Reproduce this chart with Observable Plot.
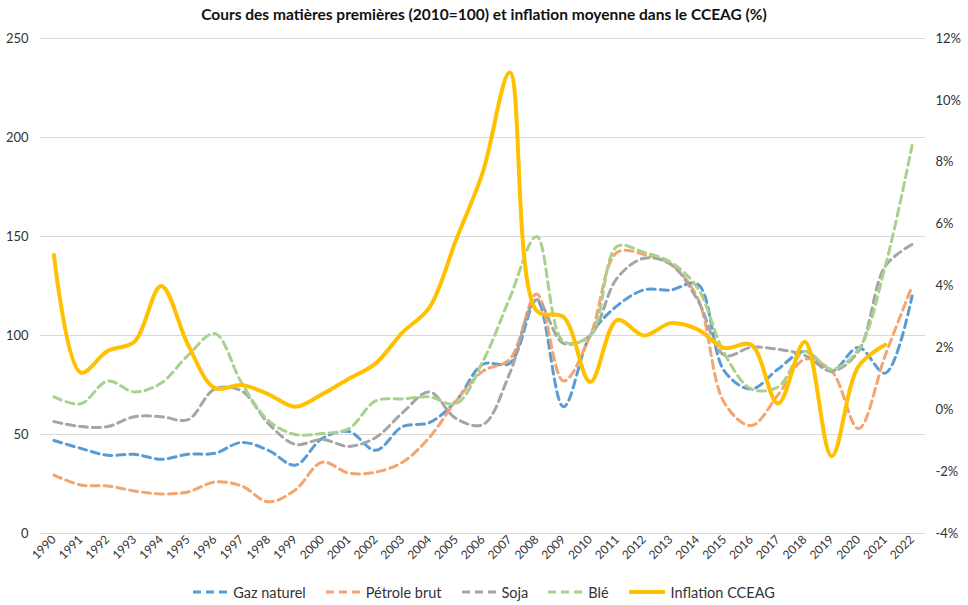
<!DOCTYPE html>
<html>
<head>
<meta charset="utf-8">
<script src="https://cdn.jsdelivr.net/npm/d3@7"></script>
<script src="https://cdn.jsdelivr.net/npm/@observablehq/plot@0.6"></script>
<style>
  body { margin: 0; background: #fff; font-family: Lato, "Open Sans", sans-serif; }
  #wrap { width: 968px; height: 605px; position: relative; overflow: hidden; }
  #title { height: 28px; line-height: 28px; text-align: center; font-weight: 700; font-size: 15.5px; color: #111; }
  #legend { position: absolute; left: 0; top: 580px; width: 968px; height: 24px; display: flex; justify-content: center; align-items: center; font-size: 14.5px; color: #333; }
  .item { display: flex; align-items: center; margin: 0 10px; }
  .item svg { margin-right: 6px; }
</style>
</head>
<body>
<div id="wrap">
  <div id="title">Cours des matières premières (2010=100) et inflation moyenne dans le CCEAG (%)</div>
  <div id="chart"></div>
  <div id="legend"></div>
</div>
<script>
const years = d3.range(1990, 2023);
const leftTicks = [0, 50, 100, 150, 200, 250];
const pctTicks = [-4, -2, 0, 2, 4, 6, 8, 10, 12];

const gaz      = [47, 43, 39.5, 40, 37.5, 40, 40.5, 46, 42, 34.5, 48, 51.5, 42, 54, 56, 67, 85.5, 86, 118, 64, 100, 115, 123, 123, 126, 82, 73, 83, 92, 82, 94, 81, 120];
const petrole  = [29.5, 24.5, 24, 21.5, 20, 21, 26, 24, 16, 22, 36, 30.5, 31, 36, 48.5, 67, 82, 88, 121, 77, 100, 142, 141, 136, 119, 66, 54.5, 70, 88, 82, 53, 90, 125];
const soja     = [56.5, 54, 54, 59, 59, 57.5, 73, 72, 55.5, 45, 47.5, 44, 48.5, 61, 71.5, 58, 55, 81, 118, 96, 100, 129, 139, 136, 118, 90, 94, 93, 90, 82, 92, 135, 146];
const ble      = [69, 65.5, 77, 71.5, 76, 90, 101, 76, 57, 50, 50.5, 53, 67, 68, 69, 65.5, 87, 119, 150, 97, 100, 145, 142, 137, 124, 91, 73, 74, 92, 83, 93, 135, 196];
const inflation = [5.0, 1.2, 1.9, 2.2, 4.0, 2.1, 0.7, 0.8, 0.5, 0.1, 0.5, 1.0, 1.5, 2.5, 3.3, 5.5, 7.7, 10.9, 3.2, 3.0, 0.9, 2.9, 2.4, 2.8, 2.6, 2.0, 2.1, 0.2, 2.2, -1.5, 1.4, 2.1];

const seriesNames = ["Gaz naturel", "Pétrole brut", "Soja", "Blé"];
const seriesValues = [gaz, petrole, soja, ble];
const seriesColors = ["#5b9bd5", "#f4a46e", "#a5a5a5", "#a9d18e"];
const inflName = "Inflation CCEAG";
const inflColor = "#ffc000";

// secondary axis (-4%..12%) mapped onto primary (0..250)
const toLeft = p => (p + 4) * 250 / 16;
const fromLeft = v => v * 16 / 250 - 4;

const dashed = seriesValues.map((vals, k) =>
  Plot.line(vals, {
    x: (d, i) => years[i], y: d => d,
    stroke: seriesColors[k], strokeWidth: 3, strokeDasharray: "8,5",
    curve: "catmull-rom"
  })
);

const chart = Plot.plot({
  width: 968, height: 547,
  marginTop: 10, marginBottom: 42, marginLeft: 40, marginRight: 43,
  x: { domain: [1989.5, 2022.5] },
  y: { domain: [0, 250] },
  style: { fontFamily: "Lato, 'Open Sans', sans-serif", fontSize: "13px", color: "#333", background: "#fff" },
  marks: [
    Plot.gridY(leftTicks, { stroke: "#d9d9d9", strokeOpacity: 1 }),
    Plot.axisY(leftTicks, { tickSize: 0, tickPadding: 12, label: null, fontSize: 13 }),
    Plot.axisY(pctTicks.map(toLeft), { anchor: "right", tickSize: 0, tickPadding: 10, label: null, fontSize: 13,
      tickFormat: d => `${Math.round(fromLeft(d))}%` }),
    Plot.axisX(years, { tickSize: 0, tickPadding: 4, tickRotate: -45, label: null, fontSize: 12,
      tickFormat: d => String(d) }),
    ...dashed,
    Plot.line(inflation, {
      x: (d, i) => years[i], y: d => toLeft(d),
      stroke: inflColor, strokeWidth: 4, curve: "catmull-rom"
    })
  ]
});
document.getElementById("chart").appendChild(chart);

// legend
const legend = document.getElementById("legend");
const ns = "http://www.w3.org/2000/svg";
function addItem(name, color, dash, width, len) {
  const item = document.createElement("div");
  item.className = "item";
  const svg = document.createElementNS(ns, "svg");
  svg.setAttribute("width", len); svg.setAttribute("height", 10);
  const line = document.createElementNS(ns, "line");
  line.setAttribute("x1", 0); line.setAttribute("x2", len);
  line.setAttribute("y1", 5); line.setAttribute("y2", 5);
  line.setAttribute("stroke", color); line.setAttribute("stroke-width", width);
  if (dash) line.setAttribute("stroke-dasharray", dash);
  svg.appendChild(line);
  item.appendChild(svg);
  const t = document.createElement("span"); t.textContent = name;
  item.appendChild(t);
  legend.appendChild(item);
}
seriesNames.forEach((n, k) => addItem(n, seriesColors[k], "8,5", 3, 34));
addItem(inflName, inflColor, null, 4, 36);
</script>
</body>
</html>
